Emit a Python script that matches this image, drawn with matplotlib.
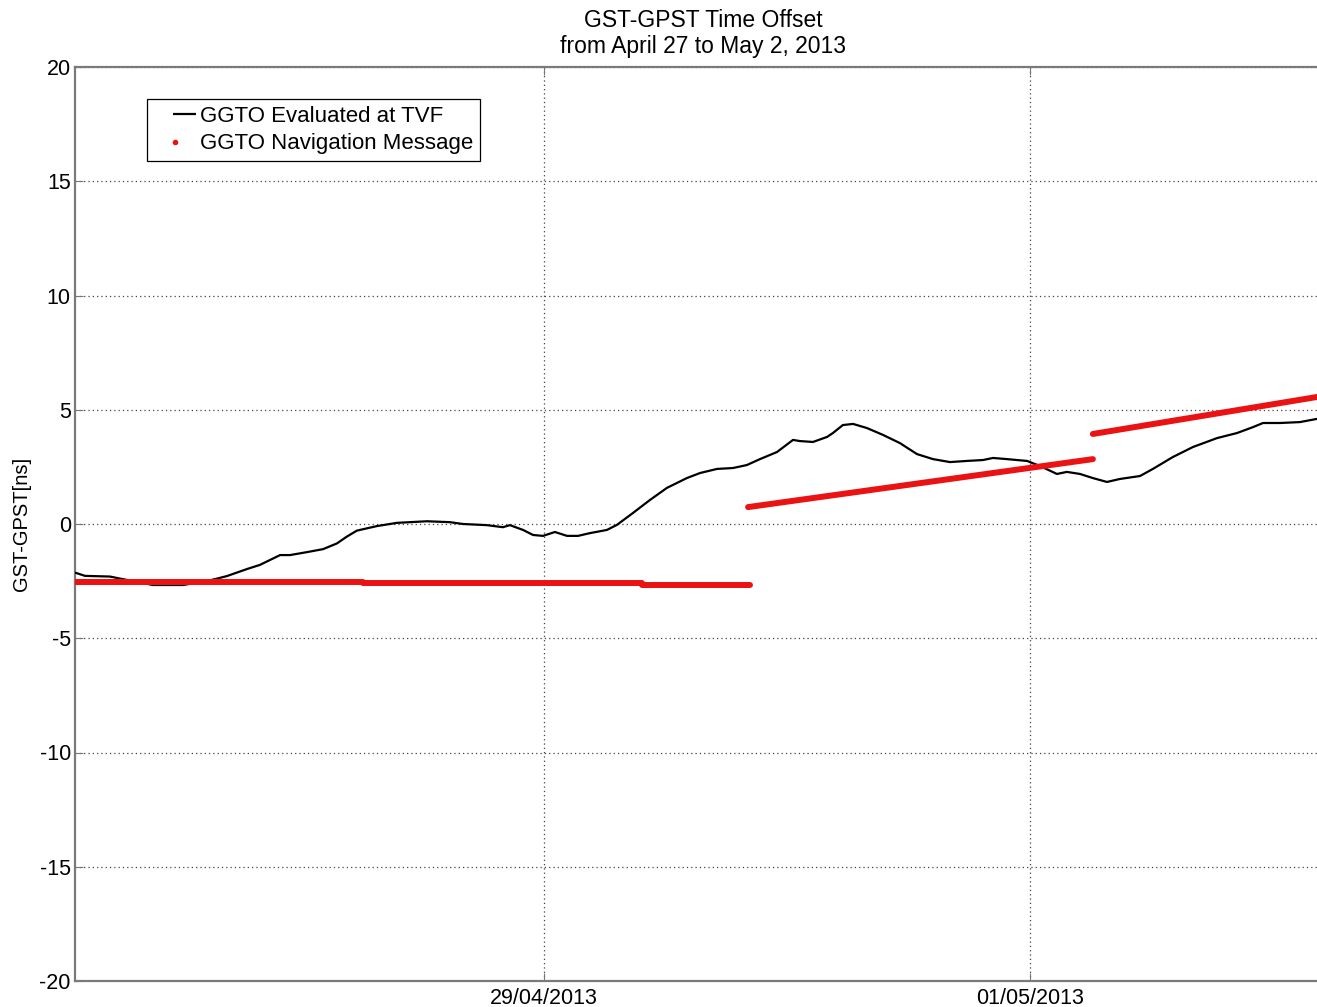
import matplotlib.pyplot as plt
from matplotlib.lines import Line2D

plt.rcParams['font.family'] = ['Liberation Sans', 'DejaVu Sans']
plt.rcParams['axes.unicode_minus'] = False
plt.rcParams['lines.scale_dashes'] = False

# time axis: days since 27/04/2013 00:00
x_min, x_max = 0.070, 5.239
tick_days = [2, 4]
tick_labels = ['29/04/2013', '01/05/2013']

# GGTO evaluated at TVF (ns)
tvf_days = [0.070, 0.074, 0.111, 0.214, 0.284, 0.391, 0.514, 0.613, 0.695, 0.778,
            0.831, 0.914, 0.955, 1.025, 1.091, 1.148, 1.189, 1.230, 1.313, 1.395,
            1.519, 1.613, 1.667, 1.765, 1.831, 1.860, 1.914, 1.955, 1.996, 2.045,
            2.095, 2.140, 2.189, 2.259, 2.300, 2.366, 2.436, 2.506, 2.588, 2.642,
            2.712, 2.778, 2.835, 2.889, 2.959, 3.025, 3.053, 3.107, 3.165, 3.189,
            3.230, 3.272, 3.329, 3.395, 3.465, 3.535, 3.601, 3.671, 3.741, 3.807,
            3.848, 3.905, 3.988, 4.041, 4.111, 4.152, 4.206, 4.259, 4.317, 4.370,
            4.453, 4.506, 4.588, 4.671, 4.770, 4.852, 4.918, 4.959, 5.029, 5.111,
            5.181, 5.239]
tvf_ns = [-2.14, -2.14, -2.27, -2.30, -2.45, -2.67, -2.67, -2.50, -2.28, -1.97,
          -1.79, -1.36, -1.36, -1.23, -1.10, -0.85, -0.55, -0.29, -0.09, 0.05,
          0.12, 0.08, 0.00, -0.05, -0.14, -0.05, -0.26, -0.48, -0.52, -0.35,
          -0.52, -0.52, -0.40, -0.26, -0.04, 0.48, 1.05, 1.58, 2.01, 2.23,
          2.41, 2.45, 2.58, 2.84, 3.15, 3.68, 3.63, 3.59, 3.81, 3.98,
          4.33, 4.38, 4.20, 3.90, 3.54, 3.06, 2.84, 2.71, 2.76, 2.80,
          2.89, 2.84, 2.76, 2.54, 2.19, 2.28, 2.19, 2.01, 1.84, 1.97,
          2.10, 2.41, 2.93, 3.37, 3.76, 3.98, 4.24, 4.42, 4.42, 4.46,
          4.60, 4.65]

# GGTO broadcast in the navigation message, one segment per parameter set
nav_start = [0.070, 0.111, 1.255, 2.403, 2.840, 4.259]
nav_end = [0.111, 1.255, 2.403, 2.848, 4.259, 5.239]
nav_v0 = [-2.52, -2.56, -2.60, -2.67, 0.74, 3.94]
nav_v1 = [-2.52, -2.56, -2.60, -2.67, 2.84, 5.66]

fig = plt.figure(figsize=(13.17, 10.07), dpi=100)
ax = fig.add_axes([75 / 1317, 26 / 1007, 1256 / 1317, 914 / 1007])

ax.plot(tvf_days, tvf_ns, color='black', lw=1.6, zorder=3)
for t0, t1, v0, v1 in zip(nav_start, nav_end, nav_v0, nav_v1):
    ax.plot([t0, t1], [v0, v1], color='#ea1212', lw=4.3,
            solid_capstyle='round', zorder=4)

ax.set_xlim(x_min, x_max)
ax.set_ylim(-20, 20)
ax.set_yticks(range(-20, 21, 5))
ax.set_xticks(tick_days)
ax.set_xticklabels(tick_labels)
ax.tick_params(direction='in', length=6, color='#777777', labelsize=15.5,
               pad=3, top=True, right=True)
ax.tick_params(axis='x', pad=5)
ax.grid(True, color='#444444', linestyle=(0, (0.9, 2.2)), lw=0.9)
for s in ax.spines.values():
    s.set_color('#7a7a7a')
    s.set_linewidth(1.6)

ax.set_ylabel('GST-GPST[ns]', fontsize=14.5, labelpad=6)
ax.set_title('GST-GPST Time Offset\nfrom April 27 to May 2, 2013',
             fontsize=16.5, pad=10, linespacing=1.15)

# legend: short line sitting in the right part of the handle, dot in the middle
handles = [Line2D([], [], color='black', lw=1.6, linestyle=(500.0 - 13.7, (16.6, 500.0 - 16.6))),
           Line2D([], [], color='#ea1212', marker='.', markersize=6, linestyle='none')]
leg = ax.legend(handles, ['GGTO Evaluated at TVF', 'GGTO Navigation Message'],
                loc='upper left', bbox_to_anchor=(72 / 1256, 1 - 32 / 914),
                borderaxespad=0, fontsize=16, fancybox=False, framealpha=1,
                edgecolor='black', handlelength=1.9, handletextpad=0.18,
                borderpad=0.3, labelspacing=0.3)
leg.get_frame().set_linewidth(0.9)

fig.savefig('out.png', dpi=100)
